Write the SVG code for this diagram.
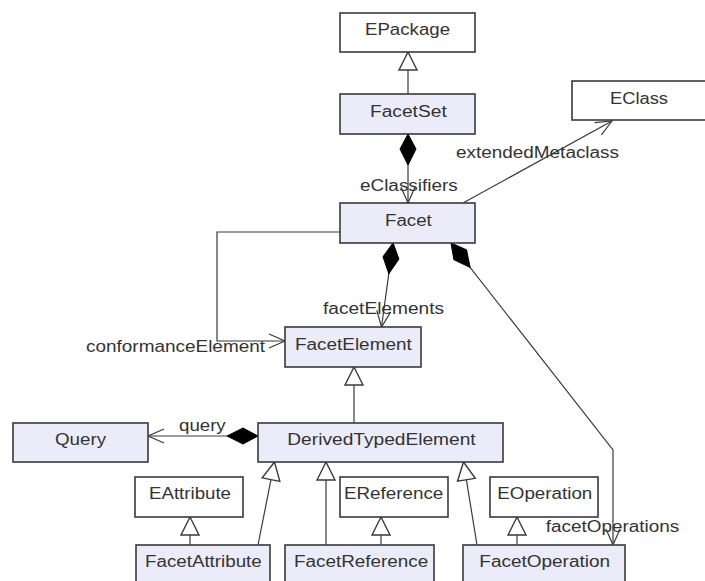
<svg xmlns="http://www.w3.org/2000/svg" width="705" height="581" viewBox="0 0 705 581">
<style>
  .box { stroke:#3a3a3a; stroke-width:1.6; }
  .w { fill:#ffffff; }
  .l { fill:#ebebfa; }
  text { font-family:"Liberation Sans", Arial, sans-serif; font-size:16px; fill:#333333; }
  .c { fill:none; stroke:#3a3a3a; stroke-width:1.2; }
</style>
<defs>
  <marker id="arrow" markerUnits="userSpaceOnUse" viewBox="-20 -10 22 20" refX="0" refY="0" markerWidth="22" markerHeight="20" orient="auto" overflow="visible">
    <path d="M-16,-7 L0,0 L-16,7" fill="none" stroke="#3a3a3a" stroke-width="1.2"/>
  </marker>
  <marker id="tri" markerUnits="userSpaceOnUse" viewBox="-20 -10 22 20" refX="0" refY="0" markerWidth="22" markerHeight="20" orient="auto" overflow="visible">
    <path d="M0,0 L-18,-9 L-18,9 Z" fill="#ffffff" stroke="#3a3a3a" stroke-width="1.4"/>
  </marker>
  <marker id="diamond" markerUnits="userSpaceOnUse" viewBox="-2 -10 36 20" refX="0" refY="0" markerWidth="36" markerHeight="20" orient="auto" overflow="visible">
    <path d="M0,0 L15,-8 L31,0 L15,8 Z" fill="#000000" stroke="#000000" stroke-width="1"/>
  </marker>
</defs>

<g id="connectors">
  <path class="c" d="M408,94 L408,52" marker-end="url(#tri)"/>
  <path class="c" d="M408,134 L408,203" marker-start="url(#diamond)" marker-end="url(#arrow)"/>
  <path class="c" d="M463,203 L612,121" marker-end="url(#arrow)"/>
  <path class="c" d="M340,232 L217,232 L217,341 L285,341" marker-end="url(#arrow)"/>
  <path class="c" d="M393,243 L381.5,327" marker-start="url(#diamond)" marker-end="url(#arrow)"/>
  <path class="c" d="M451,243 L613,450 L613,545" marker-start="url(#diamond)" marker-end="url(#arrow)"/>
  <path class="c" d="M354,423 L354,367" marker-end="url(#tri)"/>
  <path class="c" d="M258,436 L148,436" marker-start="url(#diamond)" marker-end="url(#arrow)"/>
  <path class="c" d="M258,545 L274.5,462" marker-end="url(#tri)"/>
  <path class="c" d="M190,545 L190,517" marker-end="url(#tri)"/>
  <path class="c" d="M326,545 L326,462" marker-end="url(#tri)"/>
  <path class="c" d="M381,545 L381,517" marker-end="url(#tri)"/>
  <path class="c" d="M477,545 L463.5,462" marker-end="url(#tri)"/>
  <path class="c" d="M517,545 L517,517" marker-end="url(#tri)"/>
  <text x="456" y="158" textLength="163" lengthAdjust="spacingAndGlyphs">extendedMetaclass</text>
  <text x="360" y="190.5" textLength="97.7" lengthAdjust="spacingAndGlyphs">eClassifiers</text>
  <text x="323" y="314" textLength="121" lengthAdjust="spacingAndGlyphs">facetElements</text>
  <text x="86" y="352" textLength="179" lengthAdjust="spacingAndGlyphs">conformanceElement</text>
  <text x="179" y="431" textLength="46.7" lengthAdjust="spacingAndGlyphs">query</text>
  <text x="545.7" y="531.5" textLength="133.6" lengthAdjust="spacingAndGlyphs">facetOperations</text>
</g>

<g id="EPackage"><rect class="box w" x="340" y="13" width="135" height="39"/><text x="365" y="35" textLength="85" lengthAdjust="spacingAndGlyphs">EPackage</text></g>
<g id="FacetSet"><rect class="box l" x="340" y="94" width="135" height="40"/><text x="370" y="117" textLength="76.7" lengthAdjust="spacingAndGlyphs">FacetSet</text></g>
<g id="EClass"><rect class="box w" x="572" y="81" width="140" height="39"/><text x="610" y="103.5" textLength="58" lengthAdjust="spacingAndGlyphs">EClass</text></g>
<g id="Facet"><rect class="box l" x="340" y="203" width="135" height="40"/><text x="385" y="226" textLength="46.7" lengthAdjust="spacingAndGlyphs">Facet</text></g>
<g id="FacetElement"><rect class="box l" x="285" y="327" width="136" height="40"/><text x="295" y="350" textLength="116.7" lengthAdjust="spacingAndGlyphs">FacetElement</text></g>
<g id="Query"><rect class="box l" x="13" y="423" width="135" height="39"/><text x="55" y="445" textLength="51" lengthAdjust="spacingAndGlyphs">Query</text></g>
<g id="DerivedTypedElement"><rect class="box l" x="258" y="423" width="245" height="39"/><text x="287.3" y="445" textLength="188.4" lengthAdjust="spacingAndGlyphs">DerivedTypedElement</text></g>
<g id="EAttribute"><rect class="box w" x="135" y="477" width="108" height="40"/><text x="149" y="499" textLength="82" lengthAdjust="spacingAndGlyphs">EAttribute</text></g>
<g id="EReference"><rect class="box w" x="340" y="477" width="108" height="40"/><text x="344" y="499" textLength="99.3" lengthAdjust="spacingAndGlyphs">EReference</text></g>
<g id="EOperation"><rect class="box w" x="490" y="477" width="108" height="40"/><text x="497.3" y="499" textLength="95" lengthAdjust="spacingAndGlyphs">EOperation</text></g>
<g id="FacetAttribute"><rect class="box l" x="136" y="545" width="134" height="50"/><text x="145" y="567" textLength="116.7" lengthAdjust="spacingAndGlyphs">FacetAttribute</text></g>
<g id="FacetReference"><rect class="box l" x="285" y="545" width="149" height="50"/><text x="294" y="567" textLength="134.3" lengthAdjust="spacingAndGlyphs">FacetReference</text></g>
<g id="FacetOperation"><rect class="box l" x="463" y="545" width="162" height="50"/><text x="479.3" y="567" textLength="130.7" lengthAdjust="spacingAndGlyphs">FacetOperation</text></g>
</svg>
